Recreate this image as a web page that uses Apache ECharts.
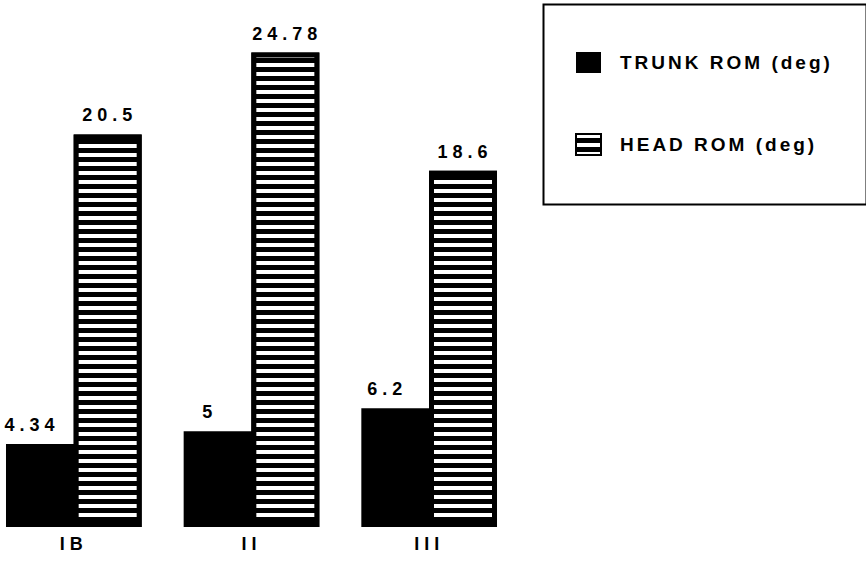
<!DOCTYPE html>
<html>
<head>
<meta charset="utf-8">
<script src="https://cdn.jsdelivr.net/npm/echarts@6/dist/echarts.min.js"></script>
<style>
html,body{margin:0;padding:0;background:#fff;}
#chart{width:866px;height:564px;}
#chart text[style*="18px"]{letter-spacing:5px;}
#chart text[style*="19px"]{letter-spacing:3px;}
</style>
</head>
<body>
<div id="chart"></div>
<script>
const categories = ['IB', 'II', 'III'];
const trunkRom = [4.34, 5, 6.2];
const headRom = [20.5, 24.78, 18.6];
const seriesNames = ['TRUNK ROM (deg)', 'HEAD ROM (deg)'];

const FONT = '"Liberation Sans", Arial, Helvetica, sans-serif';
const chart = echarts.init(document.getElementById('chart'), null, {renderer: 'svg'});
chart.setOption({
  animation: false,
  backgroundColor: '#fff',
  grid: {left: -15, width: 533, top: 10, bottom: 37, containLabel: false, outerBoundsMode: 'none'},
  xAxis: {
    type: 'category',
    data: categories,
    axisLine: {show: false},
    axisTick: {show: false},
    axisLabel: {margin: 8, color: '#000', fontWeight: 'bold', fontSize: 18, fontFamily: FONT}
  },
  yAxis: {type: 'value', min: 0, max: 27, show: false, splitLine: {show: false}},
  legend: {
    left: 575, top: 52, orient: 'vertical', padding: 0,
    icon: 'rect',
    itemWidth: 25, itemHeight: 21, itemGap: 60,
    textStyle: {color: '#000', fontWeight: 'bold', fontSize: 19, fontFamily: FONT, padding: [0, 0, 0, 14]},
    data: seriesNames
  },
  graphic: [{
    type: 'rect', left: 541, top: 2, silent: true,
    shape: {width: 323, height: 200},
    style: {fill: 'none', stroke: '#000', lineWidth: 2}
  }],
  series: [
    {
      name: seriesNames[0], type: 'bar', data: trunkRom,
      barWidth: 72, barGap: '-6%',
      itemStyle: {color: '#000'},
      label: {show: true, position: 'top', distance: 10, offset: [-10, 0],
        color: '#000', fontWeight: 'bold', fontSize: 18, fontFamily: FONT}
    },
    {
      name: seriesNames[1], type: 'bar', data: headRom,
      barWidth: 68,
      itemStyle: {
        color: '#000', borderColor: '#000', borderWidth: 5,
        decal: {symbol: 'rect', symbolSize: 1, dashArrayX: [1, 0], dashArrayY: [4, 4.4], rotation: 0, color: '#fff'}
      },
      label: {show: true, position: 'top', distance: 10, offset: [2, 0],
        color: '#000', fontWeight: 'bold', fontSize: 18, fontFamily: FONT}
    }
  ]
});
</script>
</body>
</html>
